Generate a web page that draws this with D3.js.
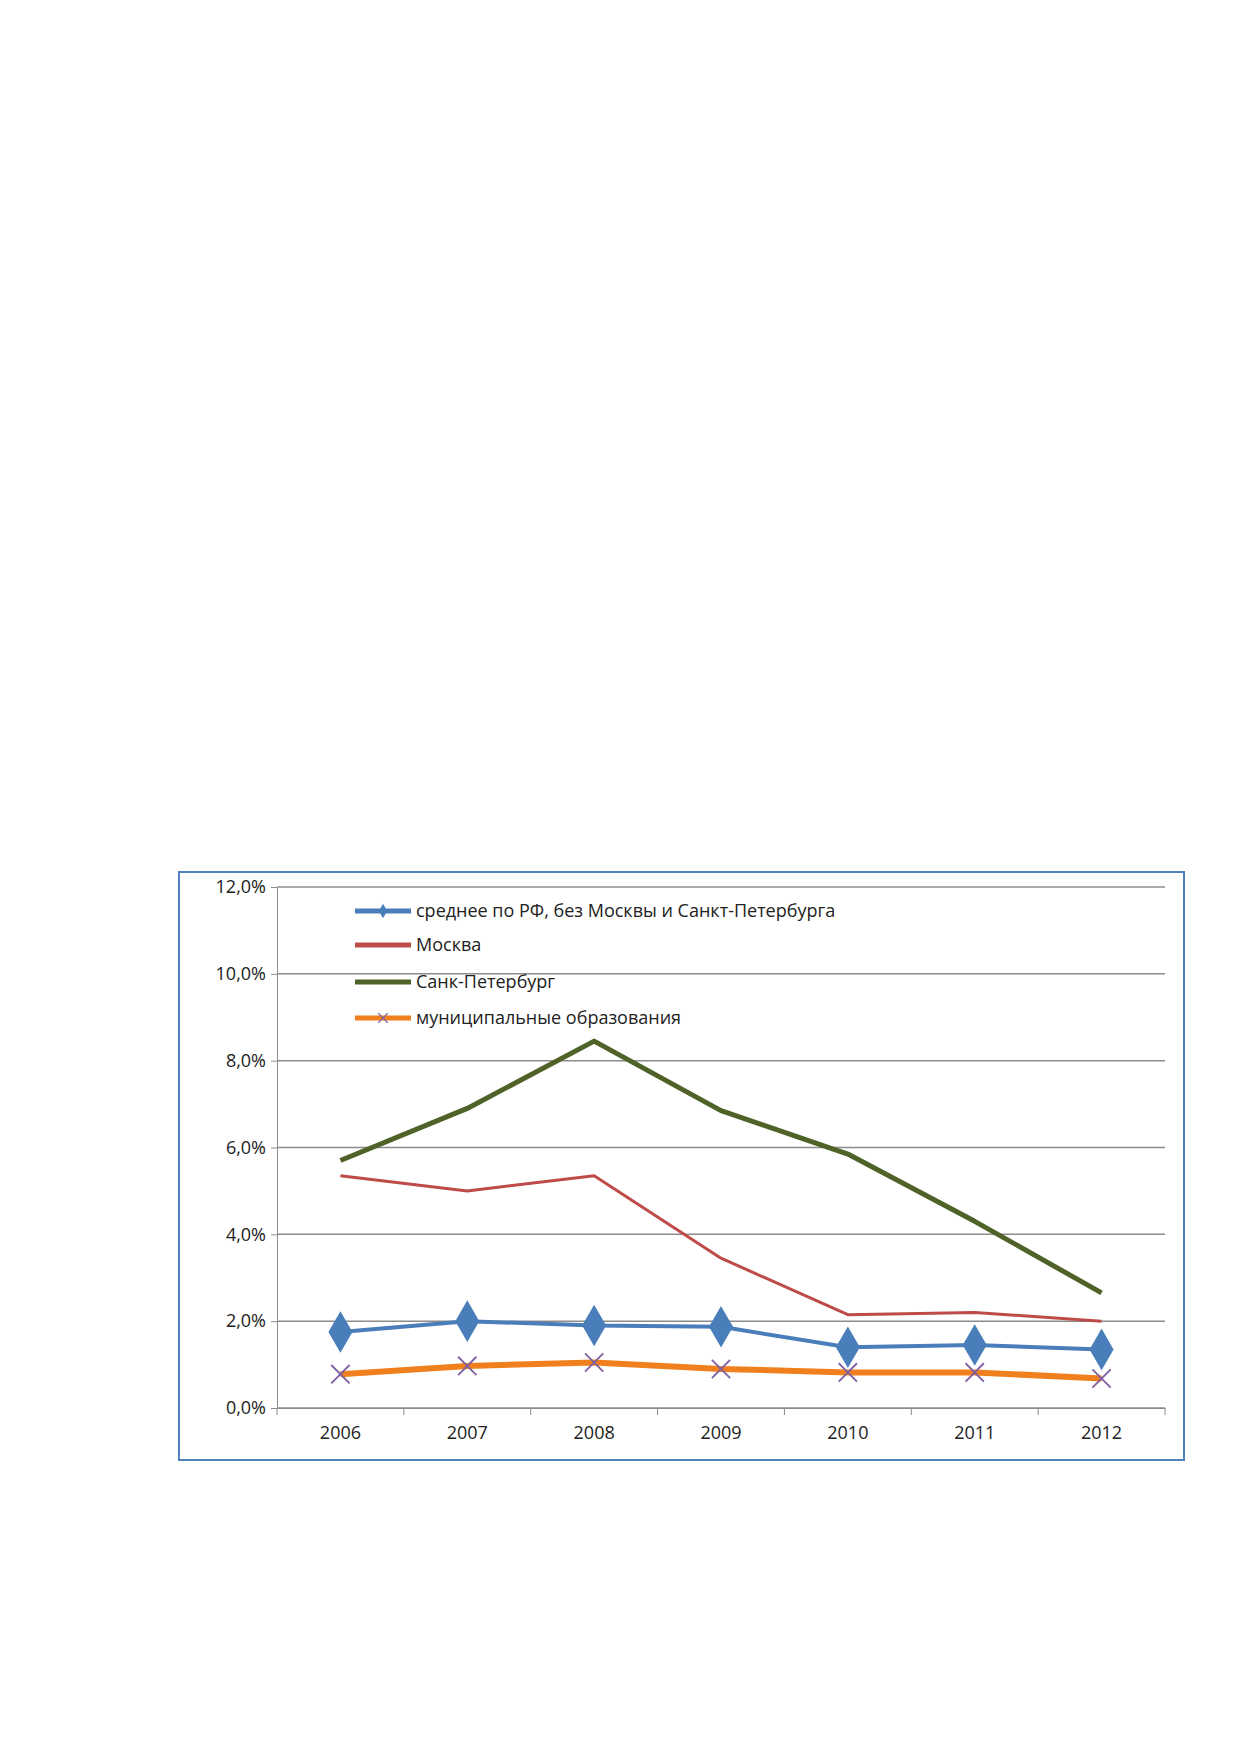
<!DOCTYPE html>
<html><head><meta charset="utf-8">
<script src="https://cdn.jsdelivr.net/npm/d3@7"></script>
<style>body{margin:0;background:#fff;}</style>
</head><body>
<script>
// years and series values (percent)
const years = [2006, 2007, 2008, 2009, 2010, 2011, 2012];
const series = [
  {name: "среднее по РФ, без Москвы и Санкт-Петербурга", color: "#4a7ebb", width: 4, marker: "diamond",
   values: [1.75, 2.0, 1.9, 1.87, 1.4, 1.45, 1.35]},
  {name: "Москва", color: "#be4b48", width: 3, marker: null,
   values: [5.35, 5.0, 5.35, 3.45, 2.15, 2.2, 2.0]},
  {name: "Санк-Петербург", color: "#4f6228", width: 5, marker: null,
   values: [5.7, 6.9, 8.45, 6.85, 5.85, 4.3, 2.65]},
  {name: "муниципальные образования", color: "#f0801e", width: 6, marker: "x",
   values: [0.78, 0.97, 1.05, 0.9, 0.82, 0.82, 0.68]}
];

const svg = d3.select("body").append("svg")
  .attr("width", 1239).attr("height", 1752);

// chart frame
svg.append("rect")
  .attr("x", 179).attr("y", 872).attr("width", 1005).attr("height", 588)
  .attr("fill", "white").attr("stroke", "#4f81bd").attr("stroke-width", 2);

const x = d3.scaleBand().domain(years).range([277, 1165]);
const y = d3.scaleLinear().domain([0, 12]).range([1408, 887]);

// gridlines
svg.append("g").selectAll("line")
  .data(d3.range(0, 13, 2))
  .enter().append("line")
  .attr("x1", 277).attr("x2", 1165)
  .attr("y1", d => y(d)).attr("y2", d => y(d))
  .attr("stroke", "#8c8c8c").attr("stroke-width", 1.5);

// y axis
const yAxis = svg.append("g").attr("transform", "translate(277,0)")
  .call(d3.axisLeft(y).tickValues(d3.range(0, 13, 2)).tickSize(6)
    .tickFormat(d => d3.format(".1f")(d).replace(".", ",") + "%"));
yAxis.select(".domain").attr("stroke", "#8c8c8c");
yAxis.selectAll("line").attr("stroke", "#8c8c8c");
yAxis.selectAll("text").style("font-family", "'Open Sans', sans-serif")
  .style("font-size", "18px").attr("fill", "#222").attr("dx", "-2");

// x axis
const xAxis = svg.append("g").attr("transform", "translate(0,1408)")
  .call(d3.axisBottom(x).tickSize(0).tickPadding(18));
xAxis.select(".domain").attr("stroke", "#8c8c8c");
xAxis.selectAll("text").style("font-family", "'Open Sans', sans-serif")
  .style("font-size", "18px").attr("fill", "#222");
svg.append("g").selectAll("line")
  .data(d3.range(years.length + 1))
  .enter().append("line")
  .attr("x1", i => 277 + i * x.step()).attr("x2", i => 277 + i * x.step())
  .attr("y1", 1408).attr("y2", 1415).attr("stroke", "#8c8c8c");

const cx = d => x(d) + x.bandwidth() / 2;
const line = d3.line().x((d, i) => cx(years[i])).y(d => y(d));

// draw lines
series.forEach(s => {
  svg.append("path").datum(s.values)
    .attr("d", line).attr("fill", "none")
    .attr("stroke", s.color).attr("stroke-width", s.width)
    .attr("stroke-linejoin", "round");

  if (s.marker === "diamond") {
    svg.append("g").selectAll("path").data(s.values).enter().append("path")
      .attr("d", d3.symbol(d3.symbolDiamond, 500))
      .attr("transform", (d, i) => `translate(${cx(years[i])},${y(d)})`)
      .attr("fill", s.color);
  } else if (s.marker === "x") {
    svg.append("g").selectAll("path").data(s.values).enter().append("path")
      .attr("d", d3.symbol(d3.symbolX, 220))
      .attr("transform", (d, i) => `translate(${cx(years[i])},${y(d)})`)
      .attr("stroke", "#7f5fa0").attr("stroke-width", 1.8).attr("fill", "none");
  }
});

// legend
const legendY = [911, 945, 982, 1018];
series.forEach((s, i) => {
  const g = svg.append("g").attr("transform", `translate(355,${legendY[i]})`);
  g.append("line").attr("x1", 0).attr("x2", 56)
    .attr("stroke", s.color).attr("stroke-width", 5);
  if (s.marker === "diamond") {
    g.append("path").attr("d", d3.symbol(d3.symbolDiamond, 60))
      .attr("transform", "translate(28,0)").attr("fill", s.color);
  } else if (s.marker === "x") {
    g.append("path").attr("d", d3.symbol(d3.symbolX, 60))
      .attr("transform", "translate(28,0)")
      .attr("stroke", "#7f5fa0").attr("stroke-width", 1.2);
  }
  g.append("text").attr("x", 61).attr("dy", "0.35em")
    .style("font-family", "'Open Sans', sans-serif").style("font-size", "18px")
    .attr("fill", "#222").text(s.name);
});
</script>
</body></html>
